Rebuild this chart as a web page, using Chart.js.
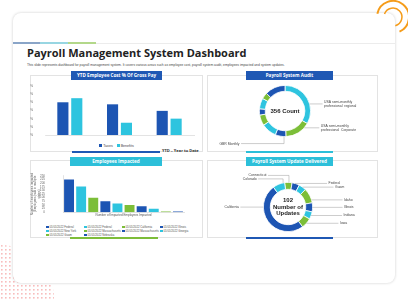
<!DOCTYPE html>
<html>
<head>
<meta charset="utf-8">
<script src="https://cdn.jsdelivr.net/npm/chart.js@4.4.1/dist/chart.umd.min.js"></script>
<style>
body{margin:0;width:408px;height:299px;overflow:hidden;background:#fff;position:relative;font-family:"Open Sans",Arial,sans-serif}
.a{position:absolute}
.card{left:13px;top:13px;width:382px;height:270px;border-radius:8px;background:#fff;box-shadow:0 0 3px rgba(0,0,0,.2)}
.panel{border:1px solid #e3e3e3;background:#fff;box-sizing:border-box}
.hd{color:#fff;font-weight:700;font-size:4.6px;text-align:center;line-height:9px;height:9px}
.blue{background:#1f58b4}
.cyan{background:#2cbfd9}
.green{background:#7dbd39}
canvas{position:absolute}
#lg{left:46px;top:224.5px;width:160px;display:grid;grid-template-columns:38px 38px 38px 38px;font-size:2.8px;line-height:4.2px;color:#555;font-family:Arial,sans-serif;white-space:nowrap}
#lg span,#lg1 span{display:inline-block;width:2.5px;height:2.5px;margin-right:1px;vertical-align:middle}
#lg1{left:30px;top:143.5px;width:173px;text-align:center;font-size:3.6px;color:#444;font-family:Arial,sans-serif;white-space:nowrap}
#lg1 b{font-weight:400;margin:0 2px}
#lg1 span{width:3px;height:3px}
</style>
</head>
<body>
<svg class="a" style="left:0;top:0" width="408" height="299">
  <defs>
    <pattern id="dots" width="4" height="4" patternUnits="userSpaceOnUse">
      <rect x="1" y="1" width="1.6" height="1.6" fill="#f07b7b"/>
    </pattern>
    <clipPath id="qc"><circle cx="0" cy="299" r="54"/></clipPath>
  </defs>
  <rect x="0" y="240" width="60" height="59" fill="url(#dots)" clip-path="url(#qc)" opacity="0.5"/>
</svg>
<div class="a card"></div>
<div class="a" style="left:13px;top:42.5px;width:382px;height:1px;background:#ececec"></div>
<div class="a" style="left:13px;top:42px;width:27px;height:1.5px;background:#8aa5c8"></div>
<div class="a" style="left:40px;top:42px;width:28px;height:1.5px;background:#98d6e2"></div>
<div class="a" style="left:68px;top:42px;width:28px;height:1.5px;background:#b3d88a"></div>
<svg class="a" style="left:0;top:0" width="408" height="299">
  <path d="M377.35 13.67 A16 16 0 1 1 399.5 31.6" fill="none" stroke="#f59c1a" stroke-width="2"/>
  <path d="M384.5 13.9 A9 9 0 1 1 395.3 25.7" fill="none" stroke="#f59c1a" stroke-width="1.5"/>
</svg>

<div class="a" style="left:27px;top:46px;font-size:11px;font-weight:700;color:#222;white-space:nowrap;line-height:13px">Payroll Management System Dashboard</div>
<div class="a" style="left:27px;top:63px;font-size:3.3px;color:#444;white-space:nowrap;font-family:Arial,sans-serif">This slide represents dashboard for payroll management system. It covers various areas such as employee cost, payroll system audit, employees impacted and system updates.</div>

<div class="a panel" style="left:30px;top:75px;width:173px;height:77px"></div>
<div class="a panel" style="left:207px;top:75px;width:171px;height:77px"></div>
<div class="a panel" style="left:30px;top:160px;width:173px;height:78px"></div>
<div class="a panel" style="left:207px;top:160px;width:171px;height:78px"></div>

<div class="a hd blue" style="left:71px;top:71px;width:91px">YTD Employee Cost % Of Gross Pay</div>
<div class="a hd blue" style="left:246px;top:71px;width:87px">Payroll System Audit</div>
<div class="a hd cyan" style="left:70px;top:157px;width:92px">Employees Impacted</div>
<div class="a hd cyan" style="left:246px;top:157px;width:87px">Payroll System Update Delivered</div>

<div class="a blue" style="left:72px;top:151px;width:88px;height:2px"></div>
<div class="a cyan" style="left:246px;top:151px;width:87px;height:2px"></div>
<div class="a green" style="left:70px;top:237px;width:88px;height:2px"></div>
<div class="a blue" style="left:246px;top:237px;width:87px;height:2px"></div>

<canvas id="c1" width="173" height="62" style="left:30px;top:80px"></canvas>
<canvas id="c2" width="171" height="71" style="left:207px;top:80px"></canvas>
<canvas id="c3" width="173" height="60" style="left:30px;top:164px"></canvas>
<canvas id="c4" width="171" height="71" style="left:207px;top:166px"></canvas>
<div class="a" id="lg1"></div>
<div class="a" style="left:162px;top:147.5px;font-size:4px;font-weight:700;color:#333;white-space:nowrap">YTD – Year to Date</div>
<div class="a" id="lg"></div>

<script>
// data
const costCats = ['ABC Ltd (Canada)', 'XYZ Ltd (USA)', 'MNO Ltd (USA)']
const costSeries = ['Taxes', 'Benefits']
const taxes = [40, 37.5, 29.5]
const benefits = [45, 15, 20]

const auditVals = [118, 58, 24, 34, 24, 14, 24, 14, 46]
const auditTotal = 356

const impactLabels = ['01/01/2022 Federal', '01/01/2022 Federal', '01/01/2022 California', '01/01/2022 Illinois',
  '01/01/2022 New York', '01/01/2022 Massachusetts', '01/01/2022 Massachusetts', '01/01/2022 Georgia',
  '01/01/2022 Guam', '01/01/2022 Nebraska']
const impactVals = [224, 176, 100, 76, 59, 50, 41, 24, 4, 4]

const updateStates = ['Connecticut', 'Federal', 'Guam', 'Idaho', 'Illinois', 'Indiana', 'Iowa', 'California', 'Colorado']
const updateVals = [5, 5, 5, 10, 6, 5, 7, 51, 8]
const updateTotal = 102

const BLUE = '#1d55b3', CYAN = '#2ec4df', GREEN = '#7cbe38'
const cycle = (start, n) => Array.from({length: n}, (_, i) => [BLUE, CYAN, GREEN][(start + i) % 3])

Chart.defaults.font.family = 'Arial, sans-serif'
Chart.defaults.animation = false
Chart.defaults.plugins.tooltip.enabled = false

let centerText = {
    id: 'centerText',
    afterDatasetsDraw(chart, args, opts) {
        let a = chart.getDatasetMeta(0).data[0]
        let ctx = chart.ctx
        ctx.save()
        ctx.font = opts.font
        ctx.fillStyle = '#222'
        ctx.textAlign = 'center'
        ctx.textBaseline = 'middle'
        opts.lines.forEach((l, k) => ctx.fillText(l, a.x, a.y + (k - (opts.lines.length - 1) / 2) * opts.lh))
        ctx.restore()
    }
}

let leaders = {
    id: 'leaders',
    afterDatasetsDraw(chart, args, opts) {
        let arcs = chart.getDatasetMeta(0).data
        let ctx = chart.ctx
        ctx.save()
        ctx.strokeStyle = '#9a9a9a'
        ctx.lineWidth = 0.5
        ctx.fillStyle = '#444'
        ctx.font = opts.font
        ctx.textBaseline = 'middle'
        for (let it of opts.items) {
            let a = arcs[it.i]
            let ang = a.startAngle + (a.endAngle - a.startAngle) * it.at
            let px = a.x + Math.cos(ang) * a.outerRadius
            let py = a.y + Math.sin(ang) * a.outerRadius
            let ey = py + (it.dy || 0), ex = px + it.dx
            ctx.beginPath()
            ctx.moveTo(px, py)
            ctx.lineTo(px, ey)
            ctx.lineTo(ex, ey)
            ctx.stroke()
            ctx.textAlign = it.dx > 0 ? 'left' : 'right'
            let tx = ex + (it.dx > 0 ? 1.5 : -1.5)
            it.text.forEach((l, k) => ctx.fillText(l, tx, ey + (k - (it.text.length - 1) / 2) * opts.lh))
        }
        ctx.restore()
    }
}

// YTD employee cost
new Chart(document.getElementById('c1'), {
    type: 'bar',
    data: {
        labels: costCats,
        datasets: [
            {label: costSeries[0], data: taxes, backgroundColor: BLUE, categoryPercentage: 0.56, barPercentage: 0.8},
            {label: costSeries[1], data: benefits, backgroundColor: CYAN, categoryPercentage: 0.56, barPercentage: 0.8}
        ]
    },
    options: {
        responsive: false,
        layout: {padding: {left: 0, right: 9, top: 5, bottom: 0}},
        scales: {
            x: {
                grid: {display: false},
                border: {color: '#d0d0d0', width: 0.6},
                ticks: {font: {size: 3.2}, color: '#666', padding: 1, maxRotation: 0, autoSkip: false},
                afterFit: s => { s.height = 7 }
            },
            y: {
                min: 0, max: 60,
                grid: {display: false},
                border: {display: false},
                ticks: {stepSize: 10, callback: v => v + '%', font: {size: 3.2}, color: '#666', padding: 4, autoSkip: false},
                afterFit: s => { s.width = 15 }
            }
        },
        plugins: {legend: {display: false}}
    }
})

// payroll system audit
new Chart(document.getElementById('c2'), {
    type: 'doughnut',
    data: {
        labels: auditVals.map((v, i) => 'seg' + i),
        datasets: [{data: auditVals, backgroundColor: [CYAN, GREEN, BLUE, CYAN, GREEN, BLUE, CYAN, GREEN, BLUE], borderColor: '#fff', borderWidth: 0.8}]
    },
    options: {
        responsive: false,
        cutout: '77%',
        layout: {padding: {left: 52, right: 67, top: 5, bottom: 14}},
        plugins: {
            legend: {display: false},
            centerText: {lines: [auditTotal + ' Count'], font: 'bold 6px Arial', lh: 7},
            leaders: {
                font: '3.4px Arial', lh: 4.2,
                items: [
                    {i: 0, at: 0.62, dx: 13, text: ['USA semi-monthly', 'professional  regional']},
                    {i: 1, at: 0.2, dx: 15, text: ['USA semi-monthly', 'professional  Corporate']},
                    {i: 2, at: 0.17, dy: 7, dx: -43, text: ['GBR Monthly']}
                ]
            }
        }
    },
    plugins: [centerText, leaders]
})

// employees impacted
new Chart(document.getElementById('c3'), {
    type: 'bar',
    data: {
        labels: impactLabels,
        datasets: [{label: 'Employees', data: impactVals, backgroundColor: cycle(0, impactVals.length), categoryPercentage: 1, barPercentage: 0.82}]
    },
    options: {
        responsive: false,
        layout: {padding: {left: 0, right: 19, top: 3, bottom: 0}},
        scales: {
            x: {
                grid: {display: false},
                border: {color: '#d0d0d0', width: 0.6},
                ticks: {display: false},
                title: {display: true, text: 'Number of Impacted Employees Impacted', font: {size: 3}, color: '#555', padding: {top: 1.5, bottom: 0}},
                afterFit: s => { s.height = 5 }
            },
            y: {
                min: 0, max: 250,
                grid: {display: false},
                border: {color: '#d0d0d0', width: 0.6},
                ticks: {stepSize: 25, font: {size: 3}, color: '#666', padding: 10, autoSkip: false},
                title: {display: true, text: ['Number of employees impacted', '(Employees paid in multiple', 'states)'], font: {size: 3}, color: '#666', padding: 0},
                afterFit: s => { s.width = 33 }
            }
        },
        plugins: {legend: {display: false}}
    }
})

// payroll system update delivered
new Chart(document.getElementById('c4'), {
    type: 'doughnut',
    data: {
        labels: updateStates,
        datasets: [{data: updateVals, backgroundColor: cycle(2, updateVals.length), borderColor: '#fff', borderWidth: 0.8}]
    },
    options: {
        responsive: false,
        cutout: '72%',
        rotation: -8,
        layout: {padding: {left: 56, right: 65, top: 16, bottom: 5}},
        plugins: {
            legend: {display: false},
            centerText: {lines: [String(updateTotal), 'Number of', 'Updates'], font: 'bold 6px Arial', lh: 6.6},
            leaders: {
                font: '3.4px Arial', lh: 4,
                items: [
                    {i: 0, at: 0.58, dy: -7, dx: -21, text: [updateStates[0]]},
                    {i: 1, at: 0.4, dx: 32, text: [updateStates[1]]},
                    {i: 2, at: 0.5, dx: 31, text: [updateStates[2]]},
                    {i: 3, at: 0.8, dx: 31, text: [updateStates[3]]},
                    {i: 4, at: 0.5, dx: 30, text: [updateStates[4]]},
                    {i: 5, at: 0.5, dx: 31, text: [updateStates[5]]},
                    {i: 6, at: 0.5, dx: 32, text: [updateStates[6]]},
                    {i: 7, at: 0.7, dx: -23, text: [updateStates[7]]},
                    {i: 8, at: 0.875, dy: -4, dx: -25, text: [updateStates[8]]}
                ]
            }
        }
    },
    plugins: [centerText, leaders]
})

// html legends
let lg1 = document.getElementById('lg1')
costSeries.forEach((t, i) => {
    lg1.innerHTML += '<b><span style="background:' + [BLUE, CYAN][i] + '"></span>' + t + '</b>'
})
let lg = document.getElementById('lg')
let cols = cycle(0, impactLabels.length)
impactLabels.forEach((t, i) => {
    let d = document.createElement('div')
    d.innerHTML = '<span style="background:' + cols[i] + '"></span>' + t
    lg.appendChild(d)
})
</script>
</body>
</html>
